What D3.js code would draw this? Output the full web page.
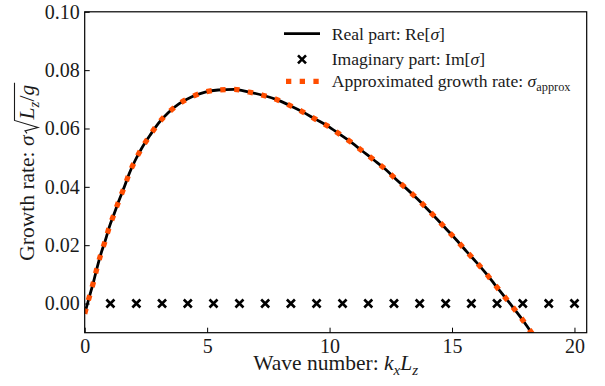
<!DOCTYPE html>
<html>
<head>
<meta charset="utf-8">
<script src="https://cdn.jsdelivr.net/npm/d3@7"></script>
<style>
  html, body { margin: 0; padding: 0; background: #fff; }
  svg { display: block; }
</style>
</head>
<body>
<svg id="chart" width="605" height="386"></svg>
<script>
// Wave numbers k_x L_z where the dispersion relation was sampled
const kValues = [0, 0.19, 0.35, 0.49, 0.65, 0.83, 1.00, 1.20, 1.40, 1.62, 1.82, 2.07, 2.34, 2.67,
  3.00, 3.41, 3.86, 4.38, 4.92, 5.45, 6.11, 6.70, 7.27, 7.81, 8.35, 8.90, 9.40, 9.91, 10.40,
  10.89, 11.35, 11.81, 12.27, 12.71, 13.15, 13.58, 13.98, 14.39, 14.81, 15.21, 15.60, 15.99,
  16.37, 16.74, 17.11, 17.48, 17.83, 18.18, 18.50];
// Re[sigma] * sqrt(Lz/g)
const reValues = [-0.0035, 0.0023, 0.0071, 0.0118, 0.0167, 0.0213, 0.0261, 0.0307, 0.0353, 0.0400,
  0.0446, 0.0492, 0.0534, 0.0577, 0.0617, 0.0654, 0.0685, 0.0709, 0.0725, 0.0732, 0.0734, 0.0725,
  0.0714, 0.0700, 0.0680, 0.0657, 0.0633, 0.0609, 0.0581, 0.0552, 0.0522, 0.0492, 0.0461, 0.0426,
  0.0393, 0.0359, 0.0325, 0.0289, 0.0251, 0.0215, 0.0178, 0.0142, 0.0105, 0.0066, 0.0027, -0.0012,
  -0.0050, -0.0092, -0.0130];
// Approximate growth rate sigma_approx on the same k grid
const approxValues = [-0.0035, 0.0023, 0.0071, 0.0118, 0.0167, 0.0213, 0.0261, 0.0307, 0.0353, 0.0400,
  0.0446, 0.0492, 0.0534, 0.0577, 0.0617, 0.0654, 0.0685, 0.0709, 0.0725, 0.0732, 0.0734, 0.0725,
  0.0714, 0.0700, 0.0680, 0.0657, 0.0633, 0.0609, 0.0581, 0.0552, 0.0522, 0.0492, 0.0461, 0.0426,
  0.0393, 0.0359, 0.0325, 0.0289, 0.0251, 0.0215, 0.0178, 0.0142, 0.0105, 0.0066, 0.0027, -0.0012,
  -0.0050, -0.0092, -0.0130];
// Im[sigma] on the coarse grid
const imK = [1.05, 2.11, 3.16, 4.21, 5.26, 6.32, 7.37, 8.42, 9.47, 10.53, 11.58, 12.63, 13.68,
  14.74, 15.79, 16.84, 17.89, 18.95, 20.0];
const imValues = [0, 0, 0, 0, 0, 0, 0, 0, 0, 0, 0, 0, 0, 0, 0, 0, 0, 0, 0];

const xTicks = [0, 5, 10, 15, 20];
const yTicks = [0.00, 0.02, 0.04, 0.06, 0.08, 0.10];
const xDomain = [0, 20.5];
const yDomain = [-0.01, 0.10];

const legendLabels = [
  [{t: "Real part: Re["}, {t: "σ", it: true}, {t: "]"}],
  [{t: "Imaginary part: Im["}, {t: "σ", it: true}, {t: "]"}],
  [{t: "Approximated growth rate: "}, {t: "σ", it: true}, {t: "approx", sub: true}]
];

const plot = {left: 84.7, right: 586.7, top: 11.8, bottom: 332.7};
const orange = "#ff4d00";
const serif = "'Liberation Serif'";
const ink = "#1a1a1a";

const svg = d3.select("#chart");
const x = d3.scaleLinear().domain(xDomain).range([plot.left, plot.right]);
const y = d3.scaleLinear().domain(yDomain).range([plot.bottom, plot.top]);

// append math-style runs (italic / subscript) to a text element
function mathParts(textSel, parts, size) {
  textSel.attr("font-family", serif).attr("font-size", size).attr("fill", ink);
  let shift = 0;
  parts.forEach(p => {
    const ts = textSel.append("tspan").attr("font-family", serif).text(p.t);
    if (p.it) ts.attr("font-style", "italic");
    if (p.sub) ts.attr("font-size", size * 0.7);
    const target = p.sub ? size * 0.24 : 0;
    if (target !== shift) { ts.attr("dy", target - shift); shift = target; }
  });
  return textSel;
}

svg.append("defs").append("clipPath").attr("id", "plotClip")
  .append("rect")
  .attr("x", plot.left).attr("y", plot.top)
  .attr("width", plot.right - plot.left).attr("height", plot.bottom - plot.top);

// axes with inward ticks
const tickFont = 20;
const xAxis = d3.axisBottom(x).tickValues(xTicks).tickFormat(d3.format("d"))
  .tickSizeInner(-5).tickSizeOuter(0).tickPadding(6);
const yAxis = d3.axisLeft(y).tickValues(yTicks).tickFormat(d3.format(".2f"))
  .tickSizeInner(-5).tickSizeOuter(0).tickPadding(5);

const gx = svg.append("g").attr("transform", `translate(0,${plot.bottom})`).call(xAxis);
const gy = svg.append("g").attr("transform", `translate(${plot.left},0)`).call(yAxis);
[gx, gy].forEach(g => {
  g.attr("font-family", serif).attr("font-size", tickFont);
  g.select(".domain").remove();
  g.selectAll(".tick line").attr("stroke", "#000").attr("stroke-width", 1);
  g.selectAll(".tick text").attr("font-family", serif)
    .attr("font-size", tickFont).attr("fill", ink);
});

const line = d3.line().curve(d3.curveMonotoneX);
const body = svg.append("g").attr("clip-path", "url(#plotClip)");

// Re[sigma]
body.append("path")
  .attr("d", line(kValues.map((k, i) => [x(k), y(reValues[i])])))
  .attr("fill", "none").attr("stroke", "#000").attr("stroke-width", 2.8);

// Im[sigma] crosses
const cs = 4;
body.selectAll("g.cross").data(imK).join("g")
  .attr("class", "cross")
  .attr("transform", (k, i) => `translate(${x(k)},${y(imValues[i])})`)
  .append("path")
  .attr("d", `M${-cs},${-cs}L${cs},${cs}M${-cs},${cs}L${cs},${-cs}`)
  .attr("stroke", "#000").attr("stroke-width", 2.6).attr("fill", "none");

// approximate growth rate, dotted
body.append("path")
  .attr("d", line(kValues.map((k, i) => [x(k), y(approxValues[i])])))
  .attr("fill", "none").attr("stroke", orange).attr("stroke-width", 5.3)
  .attr("stroke-dasharray", "5.3,8.6");

// frame
svg.append("rect")
  .attr("x", plot.left).attr("y", plot.top)
  .attr("width", plot.right - plot.left).attr("height", plot.bottom - plot.top)
  .attr("fill", "none").attr("stroke", "#000").attr("stroke-width", 1.2);

// legend
const legFont = 17.6;
const leg = svg.append("g");
const rows = [33.7, 59.3, 81.3];
leg.append("line").attr("x1", 284).attr("x2", 320).attr("y1", rows[0]).attr("y2", rows[0])
  .attr("stroke", "#000").attr("stroke-width", 2.8);
leg.append("path")
  .attr("d", `M${302 - cs},${rows[1] - cs}L${302 + cs},${rows[1] + cs}M${302 - cs},${rows[1] + cs}L${302 + cs},${rows[1] - cs}`)
  .attr("stroke", "#000").attr("stroke-width", 2.6);
leg.append("line").attr("x1", 286).attr("x2", 320).attr("y1", rows[2]).attr("y2", rows[2])
  .attr("stroke", orange).attr("stroke-width", 5.3).attr("stroke-dasharray", "5.3,8.4");
legendLabels.forEach((parts, i) => {
  const t = leg.append("text").attr("x", 331.7).attr("y", rows[i] + 5.8);
  mathParts(t, parts, legFont);
});

// x label
const labFont = 21.5;
const xl = svg.append("text").attr("x", (plot.left + plot.right) / 2).attr("y", 369.5)
  .attr("text-anchor", "middle");
mathParts(xl, [{t: "Wave number: "}, {t: "k", it: true}, {t: "x", it: true, sub: true},
  {t: "L", it: true}, {t: "z", it: true, sub: true}], labFont);

// y label with a drawn radical
const yg = svg.append("g")
  .attr("transform", `translate(34,${(plot.top + plot.bottom) / 2}) rotate(-90)`);
const partA = mathParts(yg.append("text"),
  [{t: "Growth rate: "}, {t: "σ", it: true}], labFont);
const partB = mathParts(yg.append("text"),
  [{t: "L", it: true}, {t: "z", it: true, sub: true}, {t: "/"}, {t: "g", it: true}], labFont);
const wA = partA.node().getComputedTextLength();
const wB = partB.node().getComputedTextLength();
const radW = 13, gap = 2;
const total = wA + gap + radW + wB + 2;
const x0 = -total / 2;
partA.attr("x", x0);
const rx = x0 + wA + gap;
partB.attr("x", rx + radW + 1);
const barY = -19.5;
yg.append("path")
  .attr("d", `M${rx},${-7}L${rx + 2.5},${-9}L${rx + 6},${4}L${rx + radW},${barY}L${rx + radW + wB + 3},${barY}`)
  .attr("fill", "none").attr("stroke", ink).attr("stroke-width", 1.1)
  .attr("stroke-linejoin", "miter");
</script>
</body>
</html>
